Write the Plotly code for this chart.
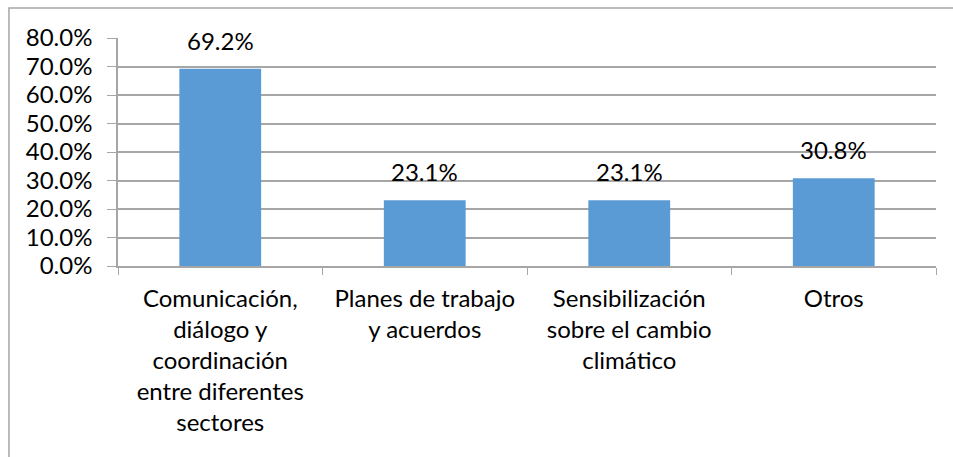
import plotly.graph_objects as go

categories = [
    "Comunicación,<br>diálogo y<br>coordinación<br>entre diferentes<br>sectores",
    "Planes de trabajo<br>y acuerdos",
    "Sensibilización<br>sobre el cambio<br>climático",
    "Otros",
]
values = [0.692, 0.231, 0.231, 0.308]

FONT = "Lato"
SIZE = 24
GRID = "#A6A6A6"

fig = go.Figure(
    go.Bar(
        x=categories, y=values,
        marker_color="#5B9BD5", marker_line_width=0,
        width=0.4,
        hoverinfo="x+y",
        showlegend=False,
    )
)

# value labels sit a little higher than plotly's "outside" text
for cat, val in zip(categories, values):
    fig.add_annotation(
        x=cat, y=val, text=f"{val:.1%}", showarrow=False,
        yanchor="bottom", yshift=12,
        font={"family": FONT, "size": SIZE, "color": "black"},
    )

# chart frame (only the top and left edges fall inside the picture)
fig.add_shape(
    type="rect", xref="paper", yref="paper",
    x0=-0.1333, x1=2, y0=-1.5, y1=1.1316,
    line={"color": "#A6A6A6", "width": 1.5}, layer="below",
)

fig.update_layout(
    width=953, height=457,
    margin={"l": 118, "r": 17, "t": 38, "b": 191},
    paper_bgcolor="white", plot_bgcolor="white",
    font={"family": FONT, "size": SIZE, "color": "black"},
    xaxis={
        "type": "category",
        "tickson": "boundaries",
        "ticks": "outside", "ticklen": 7, "tickcolor": GRID,
        "showline": True, "linecolor": GRID, "linewidth": 1.5,
        "showgrid": False,
        "ticklabelstandoff": 10,
        "tickfont": {"family": FONT, "size": SIZE, "color": "black"},
    },
    yaxis={
        "range": [0, 0.8],
        "tickvals": [i / 10 for i in range(9)],
        "tickformat": ".1%",
        "ticks": "outside", "ticklen": 9, "tickcolor": GRID,
        "showline": True, "linecolor": GRID, "linewidth": 1.5,
        "showgrid": True, "gridcolor": GRID, "gridwidth": 1.5,
        "zeroline": False,
        "ticklabelstandoff": 10,
        "tickfont": {"family": FONT, "size": SIZE, "color": "black"},
    },
)

fig.write_html(
    "out.html",
    config={"displayModeBar": False},
    post_script="document.body.style.margin = '0';",
)
